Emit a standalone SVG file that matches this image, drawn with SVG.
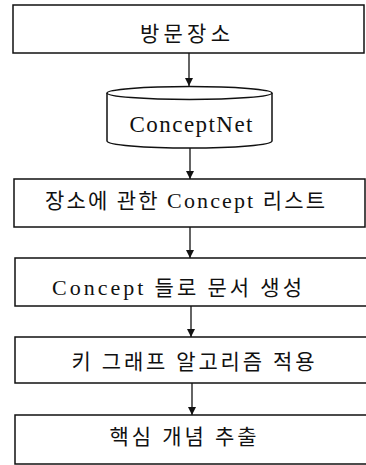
<svg xmlns="http://www.w3.org/2000/svg" width="366" height="465" viewBox="0 0 366 465">
<defs>
<style>
.box{fill:#fff;stroke:#111;stroke-width:1.5}
.lbl{font-family:"Liberation Serif","Noto Sans CJK KR",serif;font-size:21px;fill:#111;text-anchor:middle}
.con{stroke:#111;stroke-width:1.3;fill:none}
</style>
<marker id="ah" viewBox="0 0 8 10" refX="8" refY="5" markerWidth="8" markerHeight="10" markerUnits="userSpaceOnUse" orient="auto">
<path d="M0,1 L8,5 L0,9 Z" fill="#111"/>
</marker>
</defs>
<rect width="366" height="465" fill="#fff"/>
<g id="connectors">
<line class="con" x1="189" y1="53" x2="189" y2="86" marker-end="url(#ah)"/>
<line class="con" x1="190" y1="148" x2="190" y2="179" marker-end="url(#ah)"/>
<line class="con" x1="190" y1="227" x2="190" y2="258" marker-end="url(#ah)"/>
<line class="con" x1="191" y1="306" x2="191" y2="337" marker-end="url(#ah)"/>
<line class="con" x1="192" y1="383" x2="192" y2="415" marker-end="url(#ah)"/>
</g>
<g id="n1">
<rect class="box" x="13" y="5" width="351" height="48"/>
<text class="lbl" x="185" y="41" textLength="90" lengthAdjust="spacing">방문장소</text>
</g>
<g id="n2">
<path class="box" d="M107,93 A82.5,6.5 0 0 1 272,93 L272,141 A82.5,7 0 0 1 107,141 Z"/>
<path class="box" d="M107,93 A82.5,6.5 0 0 0 272,93" fill="none"/>
<text class="lbl" x="191" y="132" style="font-size:23px" textLength="123" lengthAdjust="spacing">ConceptNet</text>
</g>
<g id="n3">
<rect class="box" x="14" y="179" width="351" height="48"/>
<text class="lbl" x="185" y="208" textLength="280" lengthAdjust="spacing">장소에 관한 <tspan style="font-size:22px">Concept</tspan> 리스트</text>
</g>
<g id="n4">
<rect class="box" x="15" y="258" width="356" height="48"/>
<text class="lbl" x="177" y="295" textLength="250" lengthAdjust="spacing"><tspan style="font-size:22px">Concept</tspan> 들로 문서 생성</text>
</g>
<g id="n5">
<rect class="box" x="15" y="337" width="356" height="46"/>
<text class="lbl" x="193" y="369" textLength="243" lengthAdjust="spacing">키 그래프 알고리즘 적용</text>
</g>
<g id="n6">
<rect class="box" x="15" y="415" width="356" height="49"/>
<text class="lbl" x="183" y="444" textLength="147" lengthAdjust="spacing">핵심 개념 추출</text>
</g>
</svg>
